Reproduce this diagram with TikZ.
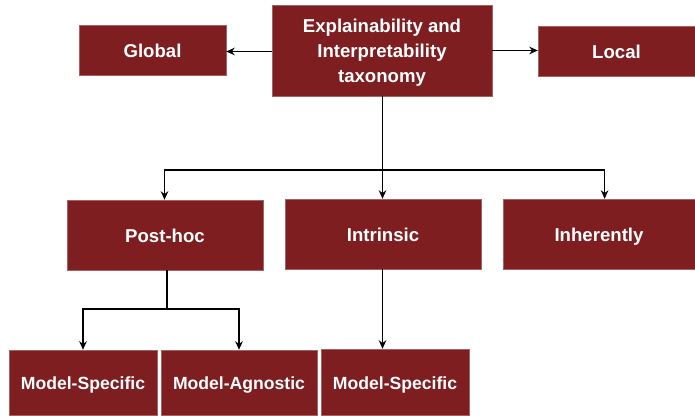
\documentclass[tikz,border=0pt]{standalone}
\usepackage{fontspec}
\setmainfont{Liberation Sans}
\usetikzlibrary{arrows.meta,calc}
\definecolor{boxred}{RGB}{126,30,32}
\begin{document}
\begin{tikzpicture}[x=1pt,y=1pt,
  box/.style={rectangle,fill=boxred,draw=boxred!70!white,line width=0.4pt,text=white,
    font=\fontsize{18.6}{24.8}\selectfont\bfseries,align=center,inner sep=0pt},
  one/.style={text height=14.2pt,text depth=0pt},
  small/.style={font=\fontsize{17.6}{22}\selectfont\bfseries},
  conn/.style={line width=1.7pt,-{Stealth[length=8.5pt,width=7.5pt]}},
  plain/.style={line width=1.7pt}]
\useasboundingbox (0,0) rectangle (695,415);
\fill[white] (0,0) rectangle (695,415);
\node[box,text depth=-6.5pt,minimum width=220,minimum height=91] (main) at (382,364.5) {Explainability and\\Interpretability\\taxonomy};
\node[box,one,minimum width=147,minimum height=50] (glob) at (152.5,365) {Global};
\node[box,one,minimum width=157,minimum height=50] (loc) at (616.5,364) {Local};
\node[box,one,minimum width=196,minimum height=70] (post) at (165,180) {Post-hoc};
\node[box,one,minimum width=196,minimum height=70] (intr) at (383,181) {Intrinsic};
\node[box,one,minimum width=192,minimum height=70] (inh) at (599,181) {Inherently};
\node[box,one,small,minimum width=148,minimum height=65] (ms1) at (83,32.5) {Model-Specific};
\node[box,one,small,minimum width=156,minimum height=65] (ma) at (239,32.5) {Model-Agnostic};
\node[box,one,small,minimum width=148,minimum height=66] (ms2) at (395,33) {Model-Specific};
% top arrows
\draw[conn] ([yshift=-1pt]main.west) -- ([yshift=-1pt]main.west -| glob.east);
\draw[conn] ([yshift=0pt]main.east) -- (main.east -| loc.west);
% tree from main
\coordinate (br) at ($(main.south)+(0.5,-74)$);
\draw[plain] ([xshift=0.5pt]main.south) -- (br);
\draw[conn] (br) -| ([xshift=-0.5pt]post.north);
\draw[conn] (br) -- (br |- intr.north);
\draw[conn] (br) -| ([xshift=5.6pt]inh.north);
% post-hoc subtree
\coordinate (br2) at ($(post.south)+(1.7,-39)$);
\draw[plain] ([xshift=1.7pt]post.south) -- (br2);
\draw[conn] (br2) -| (ms1.north);
\draw[conn] (br2) -| (ma.north);
% intrinsic
\draw[conn] ([xshift=-0.5pt]intr.south) -- ([xshift=-0.5pt]intr.south |- ms2.north);
\end{tikzpicture}
\end{document}
